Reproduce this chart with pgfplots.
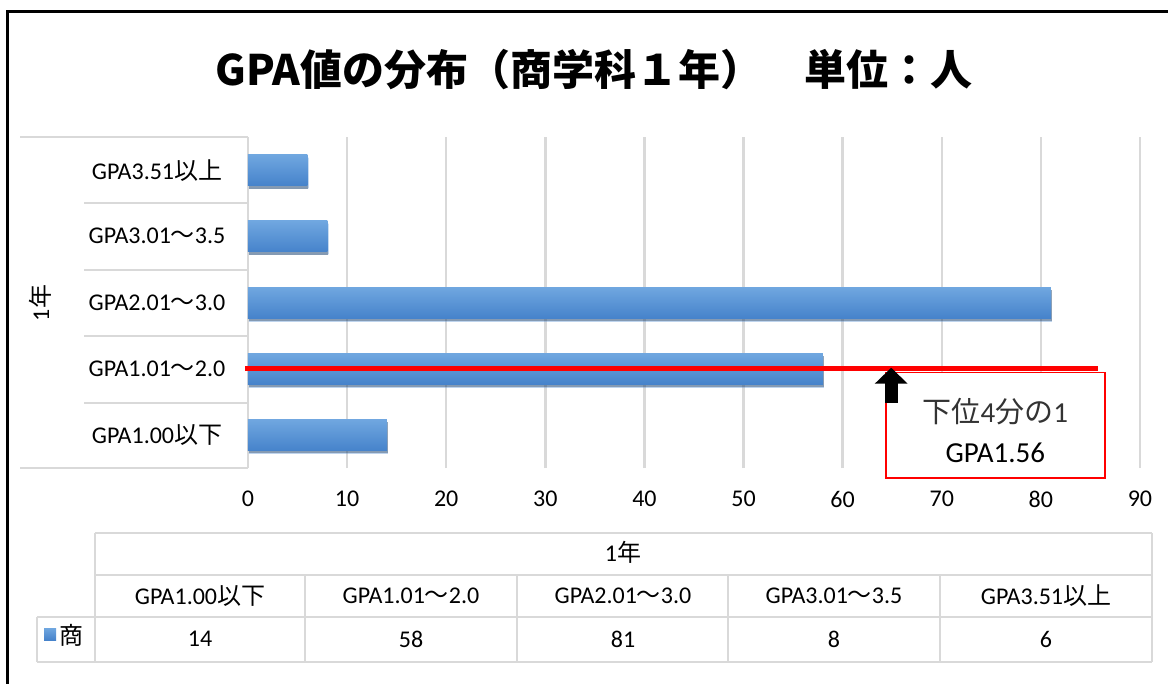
\documentclass[border=0pt]{standalone}
\usepackage{fontspec}
\setmainfont{Carlito}
\newfontfamily\jp{Noto Sans CJK JP}
\usepackage{pgfplots}
\pgfplotsset{compat=1.18}
\usetikzlibrary{arrows.meta,shadows}
\definecolor{bartop}{HTML}{70A7E0}
\definecolor{barbot}{HTML}{4683CB}
\definecolor{gridc}{HTML}{D9D9D9}
\newcommand{\fs}{\fontsize{12}{14}\selectfont}
\begin{document}
\begin{tikzpicture}
\begin{scope}[x=0.5pt,y=-0.5pt]
\path[use as bounding box] (0,0) rectangle (1168,684);
% frame
\draw[line width=1.5pt] (7,690) -- (7,12) -- (1175,12);
% title
\node[font=\jp\bfseries\fontsize{21}{25}\selectfont] at (594,70) {GPA値の分布（商学科１年）　単位：人};
% category axis lines
\draw[gridc, line width=1.2pt] (20,137) -- (248,137);
\draw[gridc, line width=1.2pt] (20,468) -- (248,468);
\foreach \y in {203,270,336,403} \draw[gridc,line width=1.2pt] (84,\y) -- (248,\y);
\node[rotate=90, font=\fs] at (40,303) {1{\jp 年}};
% data table
\draw[gridc, line width=1.2pt] (95,533) -- (1152,533);
\draw[gridc, line width=1.2pt] (95,575) -- (1152,575);
\draw[gridc, line width=1.2pt] (37,617) -- (1152,617);
\draw[gridc, line width=1.2pt] (37,662) -- (1152,662);
\draw[gridc, line width=1.2pt] (95,533) -- (95,662);
\draw[gridc, line width=1.2pt] (1152,533) -- (1152,662);
\draw[gridc, line width=1.2pt] (37,617) -- (37,662);
\foreach \x in {305,517,728,940} \draw[gridc,line width=1.2pt] (\x,575) -- (\x,662);
\node[font=\fs] at (623,552) {1{\jp 年}};
\node[font=\fs] at (200,596) {GPA1.00{\jp 以下}};
\node[font=\fs] at (411,596) {GPA1.01{\jp ～}2.0};
\node[font=\fs] at (623,596) {GPA2.01{\jp ～}3.0};
\node[font=\fs] at (834,596) {GPA3.01{\jp ～}3.5};
\node[font=\fs] at (1046,596) {GPA3.51{\jp 以上}};
\node[font=\fs] at (200,639) {14};
\node[font=\fs] at (411,639) {58};
\node[font=\fs] at (623,639) {81};
\node[font=\fs] at (834,639) {8};
\node[font=\fs] at (1046,639) {6};
\fill[top color=bartop, bottom color=barbot] (44,628) rectangle (56,640);
\node[font=\jp\fs] at (72,635) {商};
\end{scope}
\begin{axis}[
  at={(124pt,-234pt)}, anchor=south west,
  scale only axis, width=446pt, height=165.5pt,
  xmin=0, xmax=90, ymin=-0.5, ymax=4.5,
  xtick={0,10,...,90}, ytick={0,1,2,3,4},
  yticklabels={GPA1.00{\jp 以下}, GPA1.01{\jp ～}2.0, GPA2.01{\jp ～}3.0, GPA3.01{\jp ～}3.5, GPA3.51{\jp 以上}},
  bar width=15.5pt,
  axis line style={draw=none},
  major tick length=0pt,
  xmajorgrids, grid style={gridc, line width=1.2pt},
  clip=false,
  ticklabel style={font=\fs},
  /pgf/number format/assume math mode=true,
  yticklabel style={anchor=center, xshift=-45.5pt},
  xticklabel style={yshift=-8pt},
  barstyle/.style={xbar, bar shift=0pt, draw=none, top color=bartop, bottom color=barbot,
    drop shadow={shadow xshift=0.5pt, shadow yshift=-1.5pt, opacity=0.35, fill=black}},
]
\addplot[barstyle] coordinates {(14,0)};
\addplot[barstyle] coordinates {(58,1)};
\addplot[barstyle] coordinates {(81,2)};
\addplot[barstyle] coordinates {(8,3)};
\addplot[barstyle] coordinates {(6,4)};
\addplot[red, line width=2.5pt, forget plot] coordinates {(-0.3,1) (85.8,1)};
\draw[red, line width=0.8pt, fill=white] (axis cs:64.37,0.94) rectangle (axis cs:86.47,-0.647);
\node[font=\fontsize{14.5}{16}\selectfont, text=black!80] at (axis cs:75.4,0.35) {{\jp 下位}4{\jp 分の}1};
\node[font=\fontsize{14.5}{16}\selectfont] at (axis cs:75.4,-0.27) {GPA1.56};
\draw[line width=6.5pt, -{Triangle[length=8pt, width=16pt]}] (axis cs:64.9,0.486) -- (axis cs:64.9,1.015);
\end{axis}
\end{tikzpicture}
\end{document}
